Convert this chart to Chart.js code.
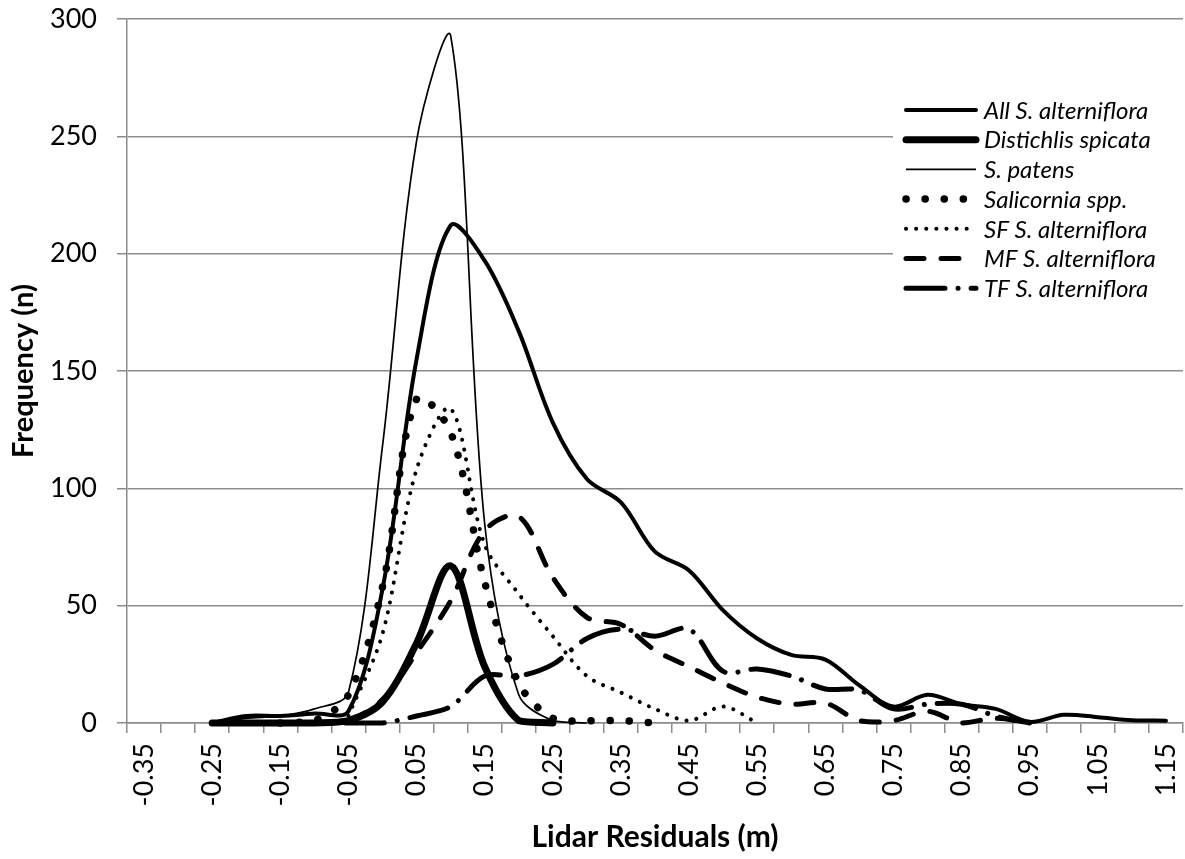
<!DOCTYPE html>
<html>
<head>
<meta charset="utf-8">
<script src="https://cdn.jsdelivr.net/npm/chart.js@4.4.1/dist/chart.umd.min.js"></script>
<style>
  html, body { margin: 0; padding: 0; background: #fff; }
  #wrap { width: 1185px; height: 859px; }
</style>
</head>
<body>
<div id="wrap"><canvas id="myChart" width="1185" height="859"></canvas></div>
<script>
// residual bins (m), one category each
const residuals = [-0.35, -0.30, -0.25, -0.20, -0.15, -0.10, -0.05, 0.00, 0.05, 0.10,
                   0.15, 0.20, 0.25, 0.30, 0.35, 0.40, 0.45, 0.50, 0.55, 0.60,
                   0.65, 0.70, 0.75, 0.80, 0.85, 0.90, 0.95, 1.00, 1.05, 1.10, 1.15];
const binLabels = residuals.map(v => v.toFixed(2));

// frequencies, null where a series has no value
const allAlterniflora = [null, null, 0, 3, 3, 4, 5, 57, 155, 212, 197, 167, 128, 104, 94, 73, 65, 48, 36, 29, 27, 16, 7, 12, 8, 6, 0.5, 3.5, 2.5, 1.2, 1];
const distichlis      = [null, null, 0, 0, 0, 0, 1, 9, 34, 67, 24, 1, 0, null, null, null, null, null, null, null, null, null, null, null, null, null, null, null, null, null, null];
const sPatens         = [null, null, 0, 2, 3, 6, 13, 118, 248, 293, 85, 12, 1, 0, null, null, null, null, null, null, null, null, null, null, null, null, null, null, null, null, null];
const salicornia      = [null, null, null, null, 0, 1, 12, 58, 138, 124, 60, 17, 2, 1, 1, 0, null, null, null, null, null, null, null, null, null, null, null, null, null, null, null];
const sfAlterniflora  = [null, null, null, null, null, null, 3, 38, 108, 134, 76, 55, 37, 20, 13, 6, 1, 7, 0, null, null, null, null, null, null, null, null, null, null, null, null];
const mfAlterniflora  = [null, null, null, null, null, 0, 1, 10, 30, 52, 82, 88, 62, 45, 42, 31, 24, 17, 11, 8, 8.5, 1, 1, 5, 0, 2, 0, null, null, null, null];
const tfAlterniflora  = [null, null, null, null, 0, 0, 0, 0, 3, 7, 20, 20, 25, 36, 40, 37, 40, 22, 23, 20, 14.5, 14, 6, 8, 8, 3, 0, null, null, null, null];

const yTicks = [0, 50, 100, 150, 200, 250, 300];

function pts(series) {
    return residuals.map((x, i) => ({ x: x, y: series[i] }));
}

// no extra room for overflowing tick labels, the plot box is fixed
function noPad(s) {
    s.paddingTop = 0;
    s.paddingBottom = 0;
    s.paddingLeft = 0;
    s.paddingRight = 0;
}

// legend drawn inside the plot, on a white box
const insideLegend = {
    id: 'insideLegend',
    afterDatasetsDraw(chart) {
        const { ctx, chartArea } = chart;
        const boxLeft = chartArea.right - 290;
        ctx.save();
        ctx.fillStyle = '#fff';
        ctx.fillRect(boxLeft, 92, chartArea.right - boxLeft + 1, 214);
        ctx.font = 'italic 24px Lato';
        ctx.textBaseline = 'middle';
        ctx.fillStyle = '#000';
        chart.data.datasets.forEach((ds, i) => {
            const y = 110 + i * 29.7;
            ctx.strokeStyle = '#000';
            ctx.lineWidth = ds.borderWidth;
            ctx.lineCap = ds.borderCapStyle || 'butt';
            ctx.setLineDash(ds.borderDash || []);
            ctx.beginPath();
            ctx.moveTo(boxLeft + 13, y);
            ctx.lineTo(boxLeft + 83, y);
            ctx.stroke();
            ctx.fillText(ds.label, boxLeft + 91, y + 1);
        });
        ctx.restore();
    }
};

Chart.defaults.font.family = 'Lato, sans-serif';
Chart.defaults.color = '#000';

const ctx = document.getElementById('myChart');
const chart = new Chart(ctx, {
    type: 'line',
    data: {
        datasets: [
            { label: 'All S. alterniflora', data: pts(allAlterniflora), borderWidth: 4, borderCapStyle: 'round' },
            { label: 'Distichlis spicata', data: pts(distichlis), borderWidth: 7, borderCapStyle: 'round' },
            { label: 'S. patens', data: pts(sPatens), borderWidth: 1.7 },
            { label: 'Salicornia spp.', data: pts(salicornia), borderWidth: 7.5, borderCapStyle: 'round', borderDash: [0.1, 19] },
            { label: 'SF S. alterniflora', data: pts(sfAlterniflora), borderWidth: 4, borderCapStyle: 'round', borderDash: [0.1, 10] },
            { label: 'MF S. alterniflora', data: pts(mfAlterniflora), borderWidth: 5, borderCapStyle: 'round', borderDash: [18, 17] },
            { label: 'TF S. alterniflora', data: pts(tfAlterniflora), borderWidth: 5, borderCapStyle: 'round', borderDash: [39, 13, 0.1, 13] }
        ]
    },
    options: {
        responsive: false,
        animation: false,
        layout: { padding: { top: 19, right: 2, left: 0, bottom: 0 } },
        plugins: { legend: { display: false }, tooltip: { enabled: false } },
        datasets: { line: { clip: false } },
        elements: {
            point: { radius: 0 },
            line: { tension: 0.33, borderColor: '#000', fill: false }
        },
        scales: {
            x: { type: 'linear', display: false, min: -0.375, max: 1.175 },
            bins: {
                type: 'category',
                position: 'bottom',
                labels: binLabels,
                offset: true,
                grid: { offset: true, drawOnChartArea: false, color: '#8c8c8c', lineWidth: 1.5, tickLength: 10 },
                border: { color: '#8c8c8c', width: 1.5 },
                ticks: {
                    autoSkip: false, maxRotation: 90, minRotation: 90, padding: 10,
                    font: { size: 27 },
                    callback: (v, i) => (i % 2 === 0 ? binLabels[i] : '')
                },
                title: { display: true, text: 'Lidar Residuals (m)', font: { size: 30, weight: 'bold' }, padding: { top: 0, bottom: 4 } },
                afterFit: s => { s.height = 136; noPad(s); }
            },
            y: {
                min: yTicks[0],
                max: yTicks[yTicks.length - 1],
                afterBuildTicks: s => { s.ticks = yTicks.map(v => ({ value: v })); },
                ticks: { padding: 20, font: { size: 27 } },
                grid: { color: '#8c8c8c', lineWidth: 1.5, tickLength: 10 },
                border: { color: '#8c8c8c', width: 1.5 },
                title: { display: true, text: 'Frequency (n)', font: { size: 29, weight: 'bold' }, padding: { top: 6, bottom: 0 } },
                afterFit: s => { s.width = 127; noPad(s); }
            }
        }
    },
    plugins: [insideLegend]
});
</script>
</body>
</html>
